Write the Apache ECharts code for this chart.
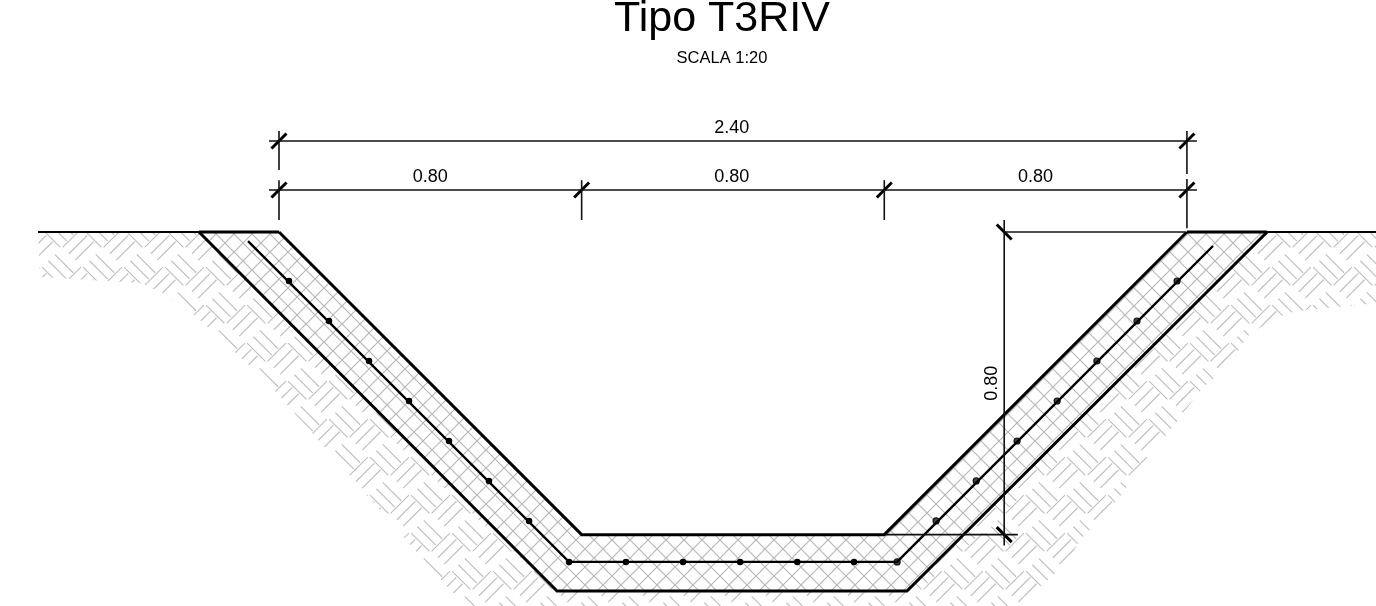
<!DOCTYPE html>
<html><head><meta charset="utf-8">
<style>html,body{margin:0;padding:0;background:#fff}#c{width:1376px;height:606px}</style>
<script src="https://cdn.jsdelivr.net/npm/echarts@6/dist/echarts.min.js"></script></head>
<body><div id="c"></div>
<script>
// drawing units: metres, origin at top-left corner of the channel's inner profile
const innerProfile=[[0,0],[0.80,-0.80],[1.60,-0.80],[2.40,0]];
const outerProfile=[[-0.2115,0],[0.735,-0.949],[1.660,-0.949],[2.612,0]];
const groundLeft=[[-0.637,0],[-0.2115,0]];
const groundRight=[[2.612,0],[2.90,0]];
const capLeft=[[-0.2115,0],[0,0]];
const capRight=[[2.40,0],[2.612,0]];
const rebar=[[-0.082,-0.024],[0.7666,-0.872],[1.634,-0.872],[2.469,-0.037]];
const barsSolid=[[0.0264,-0.1295],[0.1322,-0.2352],[0.238,-0.341],[0.3437,-0.4467],[0.4494,-0.5525],[0.555,-0.658],[0.661,-0.7637],[0.7666,-0.872],[0.917,-0.872],[1.068,-0.872],[1.219,-0.872],[1.37,-0.872],[1.52,-0.872]];
const barsHollow=[[1.634,-0.872],[1.737,-0.7637],[1.843,-0.658],[1.951,-0.5525],[2.057,-0.4467],[2.162,-0.341],[2.268,-0.2352],[2.374,-0.1295]];
const soilEdgeLeft=[[-0.637,0],[-0.6318,-0.119],[-0.367,-0.135],[-0.296,-0.1665],[-0.217,-0.225],[-0.032,-0.396],[0.127,-0.576],[0.452,-0.946],[0.4996,-0.9886]];
const soilEdgeRight=[[2.90,0],[2.90,-0.188],[2.717,-0.206],[2.665,-0.214],[2.567,-0.267],[2.514,-0.346],[2.442,-0.412],[2.363,-0.515],[2.276,-0.621],[2.223,-0.70],[2.117,-0.814],[2.083,-0.875],[1.993,-0.954],[1.959,-0.9886]];
const dimLines=[
 [[-0.0264,0.2405],[2.4264,0.2405]],[[-0.0264,0.111],[2.4264,0.111]],
 [[0,0.2669],[0,0.164]],[[0,0.137],[0,0.0317]],
 [[0.80,0.137],[0.80,0.0317]],[[1.60,0.137],[1.60,0.0317]],
 [[2.40,0.2669],[2.40,0.153]],[[2.40,0.140],[2.40,0.01]],
 [[1.917,0],[2.395,0]],[[1.60,-0.80],[1.953,-0.80]],[[1.917,0.032],[1.917,-0.829]]];
const dimTicks=[[0,0.2405],[0,0.111],[0.80,0.111],[1.60,0.111],[2.40,0.2405],[2.40,0.111]];
const dimTicksV=[[1.917,0],[1.917,-0.80]];
const dimLabels=[{p:[1.197,0.2435],t:'2.40'},{p:[0.40,0.1135],t:'0.80'},{p:[1.197,0.1135],t:'0.80'},{p:[2.00,0.1135],t:'0.80'}];
const dimLabelV={p:[1.917,-0.40],t:'0.80'};
const titleText='Tipo T3RIV', subText='SCALA 1:20';

function tile(w,h,draw){const c=document.createElement('canvas');c.width=w;c.height=h;draw(c.getContext('2d'));return c;}
const G=18;
const cross=tile(G,G,x=>{x.strokeStyle='#b8b8b8';x.lineWidth=1.2;x.beginPath();
 for(let i=-1;i<=1;i++){x.moveTo(i*G,0);x.lineTo(i*G+G,G);x.moveTo(i*G+G,0);x.lineTo(i*G,G);}x.stroke();});
const TW=41,TH=38,N=3;
const hbone=tile(TW,TH,x=>{
 const L=TW/Math.SQRT2,Wd=TH/Math.SQRT2,s=Wd/N,gap=1.5;
 x.strokeStyle='#c0c0c0';x.lineWidth=1.2;x.beginPath();
 const r=(u,v)=>[(u+v)/Math.SQRT2,(u-v)/Math.SQRT2];
 for(let i=-3;i<=3;i++)for(let j=-3;j<=3;j++){
  const ou=i*Wd+j*L,ov=-i*Wd+j*L;
  for(let k=0;k<N;k++){
   let a=r(ou+gap,ov+k*s),b=r(ou+L-gap,ov+k*s);x.moveTo(a[0],a[1]);x.lineTo(b[0],b[1]);
   a=r(ou+L+k*s,ov+gap);b=r(ou+L+k*s,ov+L-gap);x.moveTo(a[0],a[1]);x.lineTo(b[0],b[1]);
  }}
 x.stroke();});

const XMIN=-279/378.3,XMAX=(1376-279)/378.3,YMAX=232/378.3,YMIN=-(606-232)/378.3;
const poly=(pts,fill)=>({type:'custom',coordinateSystem:'cartesian2d',silent:true,clip:true,data:[0],
 renderItem:(p,api)=>({type:'polygon',shape:{points:pts.map(q=>api.coord(q))},style:{fill:fill,stroke:null}})});
const line=(pts,w,col)=>({type:'line',data:pts,symbol:'none',silent:true,clip:false,lineStyle:{width:w,color:col||'#000',cap:'butt',join:'miter'}});
const soilPoly=[[-0.637,0],...outerProfile,...soilEdgeRight,...soilEdgeLeft.slice(1).reverse()];
const concrete=[...innerProfile,...outerProfile.slice().reverse()];
const series=[poly(soilPoly,{image:hbone,repeat:'repeat'}),poly(concrete,'#fff'),poly(concrete,{image:cross,repeat:'repeat'}),
 line(groundLeft,2),line(groundRight,2),line(capLeft,3),line(capRight,3),line(innerProfile,3),line(outerProfile,3),line(rebar,2.4)];
dimLines.forEach(d=>series.push(line(d,1.6,'#111')));
const tick=(pts,sign)=>({type:'custom',coordinateSystem:'cartesian2d',silent:true,clip:false,data:pts,encode:{x:0,y:1},
 renderItem:(p,api)=>{const c=api.coord([api.value(0),api.value(1)]);return{type:'line',shape:{x1:c[0]-7.5,y1:c[1]+7.5*sign,x2:c[0]+7.5,y2:c[1]-7.5*sign},style:{stroke:'#000',lineWidth:3}};}});
series.push(tick(dimTicks,1),tick(dimTicksV,-1));
series.push({type:'scatter',data:barsSolid,symbolSize:6.5,itemStyle:{color:'#000',opacity:1},silent:true});
series.push({type:'scatter',data:barsHollow,symbolSize:6,itemStyle:{color:'#444',borderColor:'#111',borderWidth:1.2,opacity:1},silent:true});
series.push({type:'scatter',symbolSize:0,silent:true,itemStyle:{opacity:1},data:dimLabels.map(d=>({value:d.p,name:d.t})),
 label:{show:true,opacity:1,formatter:p=>p.name,position:'top',distance:3,fontFamily:'Liberation Sans',fontSize:18,color:'#000'}});
series.push({type:'scatter',symbolSize:0,silent:true,itemStyle:{opacity:1},data:[{value:dimLabelV.p,name:dimLabelV.t}],
 label:{show:true,opacity:1,formatter:p=>p.name,position:'left',rotate:90,distance:3,align:'center',verticalAlign:'bottom',fontFamily:'Liberation Sans',fontSize:18,color:'#000'}});
const chart=echarts.init(document.getElementById('c'),null,{renderer:'canvas',devicePixelRatio:1});
chart.setOption({animation:false,backgroundColor:'#fff',
 title:[{text:titleText,left:722,top:-2,padding:0,textAlign:'center',textStyle:{fontFamily:'Liberation Sans',fontWeight:'normal',fontSize:43,color:'#000'}},
  {text:subText,left:722,top:49.5,padding:0,textAlign:'center',textStyle:{fontFamily:'Liberation Sans',fontWeight:'normal',fontSize:16.5,color:'#000'}}],
 grid:{left:0,right:0,top:0,bottom:0},
 xAxis:{type:'value',min:XMIN,max:XMAX,show:false},
 yAxis:{type:'value',min:YMIN,max:YMAX,show:false},
 series});
</script></body></html>
